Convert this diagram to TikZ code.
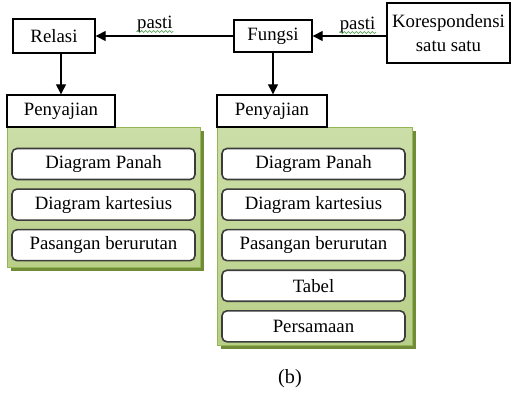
\documentclass[tikz,border=0pt]{standalone}
\usepackage{fontspec}
\setmainfont{Liberation Serif}
\usetikzlibrary{positioning,arrows.meta,shadows,decorations.pathmorphing}
\definecolor{paneltop}{RGB}{204,222,168}
\definecolor{panelbot}{RGB}{184,207,136}
\definecolor{paneldraw}{RGB}{150,182,86}
\definecolor{panelshade}{RGB}{112,140,56}
\definecolor{itemdraw}{RGB}{60,60,60}
\definecolor{spellgreen}{RGB}{96,168,96}

\begin{document}
\begin{tikzpicture}[x=0.2mm, y=-0.2mm, font=\fontsize{10.7pt}{14pt}\selectfont,
  box/.style={draw, fill=white, line width=0.8pt, align=center, inner sep=1pt},
  panel/.style={draw=paneldraw, line width=0.8pt, top color=paneltop, bottom color=panelbot, anchor=north west, inner sep=0pt,
    drop shadow={fill=panelshade, opacity=1, shadow xshift=0.6mm, shadow yshift=-0.6mm}},
  item/.style={draw=itemdraw, fill=white, line width=0.9pt, rounded corners=1mm, minimum width=36.6mm, minimum height=6.2mm, inner sep=0pt},
  flow/.style={-{Triangle[length=2mm, width=2mm]}, line width=0.8pt},
  lab/.style={inner sep=1pt},
  spell/.style={spellgreen, line width=0.4pt, decorate, decoration={snake, amplitude=0.2mm, segment length=0.8mm}}]
  \useasboundingbox (0,0) rectangle (511,399);
  % top row
  \node[box, minimum width=16.4mm, minimum height=6.8mm] (relasi) at (54,36) {Relasi};
  \node[box, minimum width=15.6mm, minimum height=6.4mm] (fungsi) at (273,36) {Fungsi};
  \node[box, minimum width=24.6mm, minimum height=12mm] (koresp) at (448.5,33) {Korespondensi\\satu satu};
  % green panels
  \node[panel, minimum width=38.6mm, minimum height=28mm] (panel1) at (7,127) {};
  \node[panel, minimum width=39mm, minimum height=43.6mm] (panel2) at (217,127) {};
  \node[box, minimum width=21.6mm, minimum height=6.4mm] (peny1) at (61,111) {Penyajian};
  \node[box, minimum width=22mm, minimum height=6.4mm] (peny2) at (272,111) {Penyajian};
  % left list
  \node[item] (rel1) at (103.5,164) {Diagram Panah};
  \node[item, below=1.6mm of rel1] (rel2) {Diagram kartesius};
  \node[item, below=1.6mm of rel2] (rel3) {Pasangan berurutan};
  % right list
  \node[item] (fun1) at (313.5,164) {Diagram Panah};
  \node[item, below=1.6mm of fun1] (fun2) {Diagram kartesius};
  \node[item, below=1.6mm of fun2] (fun3) {Pasangan berurutan};
  \node[item, below=1.6mm of fun3] (fun4) {Tabel};
  \node[item, below=1.6mm of fun4] (fun5) {Persamaan};
  % arrows
  \draw[flow] (fungsi) -- node[lab, pos=0.57, above=0.3mm] (pasti1) {pasti} (relasi);
  \draw[flow] (koresp.west |- fungsi.east) -- node[lab, pos=0.39, above=0.1mm] (pasti2) {pasti} (fungsi.east);
  \draw[spell] ([xshift=1pt, yshift=0.6mm]pasti1.south west) -- ([xshift=-1pt, yshift=0.6mm]pasti1.south east);
  \draw[spell] ([xshift=1pt, yshift=0.6mm]pasti2.south west) -- ([xshift=-1pt, yshift=0.6mm]pasti2.south east);
  \draw[flow] (peny1.north |- relasi.south) -- (peny1.north);
  \draw[flow] (fungsi.south) -- (fungsi.south |- peny2.north);
  % caption
  \node[font=\fontsize{11.5pt}{14pt}\selectfont] (cap) at (290,379) {(b)};
\end{tikzpicture}
\end{document}
